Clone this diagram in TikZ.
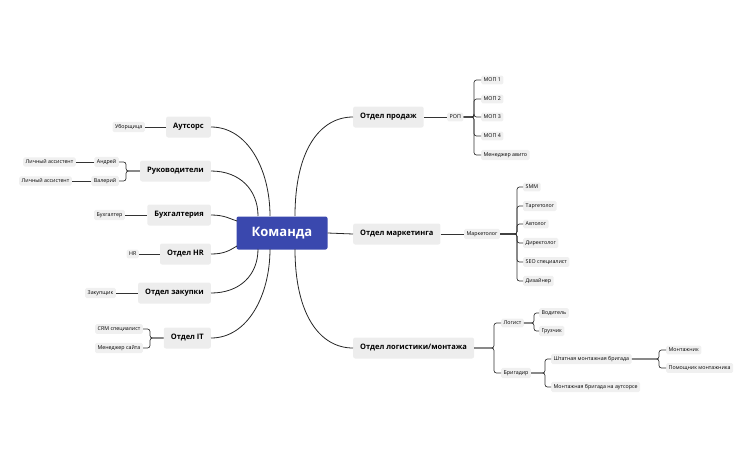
\documentclass[tikz,border=0pt]{standalone}
\usepackage{fontspec}
\setmainfont{Open Sans}
\begin{document}
\begin{tikzpicture}[x=1pt,y=-1pt,
 root/.style={fill=rootblue,text=white,rounded corners=2,minimum width=91,minimum height=33,font=\fontsize{13}{14}\selectfont\bfseries},
 l1/.style={fill=gray!14,rounded corners=2,minimum height=21,inner xsep=7,font=\fontsize{7.5}{9}\selectfont\bfseries},
 lf/.style={fill=gray!12,rounded corners=1.5,inner xsep=2.5,inner ysep=2.5,font=\fontsize{5.3}{6}\selectfont},
 ln/.style={line width=0.8pt,black!85},
 br/.style={line width=0.7pt,black!80,rounded corners=2.5}]
\definecolor{rootblue}{HTML}{3A48AE}
\useasboundingbox (0,0) rectangle (755,467);
\node[root] (k) at (282,233) {Команда};
% left level 1
\node[l1,anchor=east] (aut) at (211,127) {Аутсорс};
\node[l1,anchor=east] (ruk) at (211,171) {Руководители};
\node[l1,anchor=east] (buh) at (211,215) {Бухгалтерия};
\node[l1,anchor=east] (hr) at (211,254) {Отдел HR};
\node[l1,anchor=east] (zak) at (211,293) {Отдел закупки};
\node[l1,anchor=east] (it) at (211,338) {Отдел IT};
% right level 1
\node[l1,anchor=west] (prod) at (353,117) {Отдел продаж};
\node[l1,anchor=west] (mark) at (353,234) {Отдел маркетинга};
\node[l1,anchor=west] (log) at (353,348) {Отдел логистики/монтажа};
% root connectors
\draw[ln] (aut.east) .. controls (248,127) and (270,170) .. (270,216);
\draw[ln] (ruk.east) .. controls (240,171) and (258,190) .. (258,216);
\draw[ln] (buh.east) .. controls (225,215) and (230,219) .. (237,221);
\draw[ln] (hr.east) .. controls (225,254) and (230,250) .. (237,246);
\draw[ln] (zak.east) .. controls (240,293) and (258,275) .. (258,249);
\draw[ln] (it.east) .. controls (248,338) and (270,295) .. (270,249);
\draw[ln] (295,216) .. controls (295,150) and (320,117) .. (prod.west);
\draw[ln] (k.east) -- (mark.west);
\draw[ln] (295,249) .. controls (295,315) and (320,348) .. (log.west);
% left leaves
\node[lf,anchor=east] (ub) at (145,127) {Уборщица};
\node[lf,anchor=east] (and) at (119,162) {Андрей};
\node[lf,anchor=east] (val) at (119,181) {Валерий};
\node[lf,anchor=east] (la1) at (76,162) {Личный ассистент};
\node[lf,anchor=east] (la2) at (72,181) {Личный ассистент};
\node[lf,anchor=east] (bh) at (125,215) {Бухгалтер};
\node[lf,anchor=east] (hrl) at (139,254) {HR};
\node[lf,anchor=east] (zk) at (116,293) {Закупщик};
\node[lf,anchor=east] (crm) at (143,329) {CRM специалист};
\node[lf,anchor=east] (ms) at (143,348) {Менеджер сайта};
\draw[br] (aut.west) -- (ub.east);
\draw[br] (buh.west) -- (bh.east);
\draw[br] (hr.west) -- (hrl.east);
\draw[br] (zak.west) -- (zk.east);
\draw[br] (and.west) -- (la1.east);
\draw[br] (val.west) -- (la2.east);
\draw[br] (ruk.west) -- (126,171) |- (and.east);
\draw[br] (ruk.west) -- (126,171) |- (val.east);
\draw[br] (it.west) -- (150,338) |- (crm.east);
\draw[br] (it.west) -- (150,338) |- (ms.east);
% sales
\node[lf,anchor=west] (rop) at (447,117) {РОП};
\draw[br] (prod.east) -- (rop.west);
\foreach \n/\t/\y in {m1/МОП 1/80,m2/МОП 2/99,m3/МОП 3/117,m4/МОП 4/136,ma/Менеджер авито/155}{
 \node[lf,anchor=west] (\n) at (481,\y) {\t};
 \draw[br] (rop.east) -- (474,117) |- (\n.west);
}
% marketing
\node[lf,anchor=west] (mk) at (464,234) {Маркетолог};
\draw[br] (mark.east) -- (mk.west);
\foreach \n/\t/\y in {s1/SMM/187,s2/Таргетолог/206,s3/Автолог/224,s4/Директолог/243,s5/SEO специалист/262,s6/Дизайнер/281}{
 \node[lf,anchor=west] (\n) at (523,\y) {\t};
 \draw[br] (mk.east) -- (517,234) |- (\n.west);
}
% logistics
\node[lf,anchor=west] (lg) at (501,323) {Логист};
\node[lf,anchor=west] (bg) at (501,373) {Бригадир};
\draw[br] (log.east) -- (494,348) |- (lg.west);
\draw[br] (log.east) -- (494,348) |- (bg.west);
\node[lf,anchor=west] (vd) at (539,313) {Водитель};
\node[lf,anchor=west] (gr) at (539,331) {Грузчик};
\draw[br] (lg.east) -- (534,323) |- (vd.west);
\draw[br] (lg.east) -- (534,323) |- (gr.west);
\node[lf,anchor=west] (sh) at (551,359) {Штатная монтажная бригада};
\node[lf,anchor=west] (ao) at (551,387) {Монтажная бригада на аутсорсе};
\draw[br] (bg.east) -- (545,373) |- (sh.west);
\draw[br] (bg.east) -- (545,373) |- (ao.west);
\node[lf,anchor=west] (mn) at (666,350) {Монтажник};
\node[lf,anchor=west] (pm) at (666,368) {Помощник монтажника};
\draw[br] (sh.east) -- (659,359) |- (mn.west);
\draw[br] (sh.east) -- (659,359) |- (pm.west);
\end{tikzpicture}
\end{document}
